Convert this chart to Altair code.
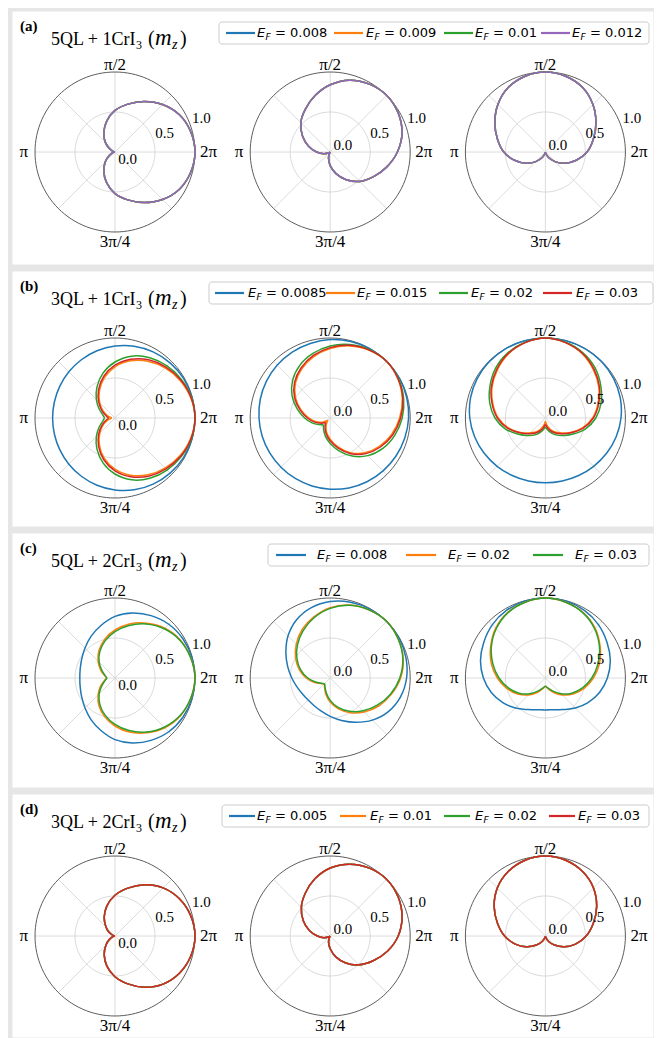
import altair as alt
import pandas as pd

# ---------------- data ----------------
PHI_DEG = list(range(0, 360, 15))          # angle relative to the lobe direction
COL_ROT_DEG = [0, 45, 90]                  # lobe direction of the three columns
ANG_TICK_LABELS = ["2π", "π/2", "π", "3π/4"]
ANG_TICK_DEG = [0, 90, 180, 270]
R_TICKS = [0.0, 0.5, 1.0]
R_TICK_LABELS = ["0.0", "0.5", "1.0"]

# (a) 5QL + 1CrI3 : one radius list per column (col 1, col 2, col 3)
A_EF = ["0.008", "0.009", "0.01", "0.012"]
A_COLORS = ["#1f77b4", "#ff7f0e", "#2ca02c", "#9467bd"]
A_LOBE = [1.00, 0.98, 0.93, 0.84, 0.73, 0.62, 0.52, 0.40, 0.28, 0.17, 0.08, 0.02, 0.00,
          0.02, 0.08, 0.17, 0.28, 0.40, 0.52, 0.62, 0.73, 0.84, 0.93, 0.98]
A_R_0008 = [A_LOBE, A_LOBE, A_LOBE]
A_R_0009 = [A_LOBE, A_LOBE, A_LOBE]
A_R_001 = [A_LOBE, A_LOBE, A_LOBE]
A_R_0012 = [A_LOBE, A_LOBE, A_LOBE]

# (b) 3QL + 1CrI3
B_EF = ["0.0085", "0.015", "0.02", "0.03"]
B_COLORS = ["#1f77b4", "#ff7f0e", "#2ca02c", "#d62728"]
B_R_00085 = [
    [1.00, 0.997, 0.989, 0.974, 0.954, 0.929, 0.90, 0.87, 0.841, 0.816, 0.796, 0.784, 0.78,
     0.784, 0.796, 0.816, 0.841, 0.87, 0.90, 0.929, 0.954, 0.974, 0.989, 0.997],
    [1.00, 0.998, 0.99, 0.98, 0.965, 0.95, 0.935, 0.92, 0.905, 0.89, 0.88, 0.873, 0.87,
     0.873, 0.88, 0.89, 0.905, 0.92, 0.935, 0.95, 0.965, 0.98, 0.99, 0.998],
    [1.00, 1.00, 0.999, 0.995, 0.985, 0.969, 0.945, 0.915, 0.883, 0.854, 0.83, 0.815, 0.81,
     0.815, 0.83, 0.854, 0.883, 0.915, 0.945, 0.969, 0.985, 0.995, 0.999, 1.00],
]
B_R_0015 = [
    [1.00, 0.98, 0.94, 0.885, 0.82, 0.74, 0.64, 0.52, 0.39, 0.27, 0.17, 0.09, 0.04,
     0.09, 0.17, 0.27, 0.39, 0.52, 0.64, 0.74, 0.82, 0.885, 0.94, 0.98],
    [1.00, 0.978, 0.933, 0.868, 0.795, 0.71, 0.615, 0.50, 0.375, 0.265, 0.18, 0.10, 0.04,
     0.10, 0.18, 0.265, 0.375, 0.50, 0.615, 0.71, 0.795, 0.868, 0.933, 0.978],
    [1.00, 0.975, 0.925, 0.85, 0.77, 0.68, 0.59, 0.48, 0.36, 0.26, 0.19, 0.11, 0.04,
     0.11, 0.19, 0.26, 0.36, 0.48, 0.59, 0.68, 0.77, 0.85, 0.925, 0.975],
]
B_R_002 = [
    [1.00, 0.99, 0.96, 0.92, 0.87, 0.80, 0.70, 0.58, 0.45, 0.33, 0.23, 0.16, 0.13,
     0.16, 0.23, 0.33, 0.45, 0.58, 0.70, 0.80, 0.87, 0.92, 0.96, 0.99],
    [1.00, 0.985, 0.95, 0.90, 0.835, 0.76, 0.665, 0.55, 0.425, 0.32, 0.235, 0.165, 0.12,
     0.165, 0.235, 0.32, 0.425, 0.55, 0.665, 0.76, 0.835, 0.90, 0.95, 0.985],
    [1.00, 0.98, 0.94, 0.88, 0.80, 0.72, 0.63, 0.52, 0.40, 0.31, 0.24, 0.17, 0.11,
     0.17, 0.24, 0.31, 0.40, 0.52, 0.63, 0.72, 0.80, 0.88, 0.94, 0.98],
]
B_R_003 = [
    [1.00, 0.985, 0.95, 0.90, 0.84, 0.76, 0.66, 0.54, 0.41, 0.29, 0.19, 0.12, 0.08,
     0.12, 0.19, 0.29, 0.41, 0.54, 0.66, 0.76, 0.84, 0.90, 0.95, 0.985],
    [1.00, 0.98, 0.94, 0.88, 0.81, 0.725, 0.63, 0.515, 0.39, 0.285, 0.20, 0.13, 0.08,
     0.13, 0.20, 0.285, 0.39, 0.515, 0.63, 0.725, 0.81, 0.88, 0.94, 0.98],
    [1.00, 0.975, 0.93, 0.86, 0.78, 0.69, 0.60, 0.49, 0.37, 0.28, 0.21, 0.14, 0.08,
     0.14, 0.21, 0.28, 0.37, 0.49, 0.60, 0.69, 0.78, 0.86, 0.93, 0.975],
]

# (c) 5QL + 2CrI3
C_EF = ["0.008", "0.02", "0.03"]
C_COLORS = ["#1f77b4", "#ff7f0e", "#2ca02c"]
C_R_0008 = [
    [1.00, 0.995, 0.98, 0.95, 0.90, 0.84, 0.77, 0.68, 0.60, 0.53, 0.48, 0.45, 0.44,
     0.45, 0.48, 0.53, 0.60, 0.68, 0.77, 0.84, 0.90, 0.95, 0.98, 0.995],
    [1.00, 0.995, 0.98, 0.955, 0.91, 0.84, 0.745, 0.64, 0.55, 0.48, 0.43, 0.40, 0.39,
     0.40, 0.43, 0.48, 0.55, 0.64, 0.745, 0.84, 0.91, 0.955, 0.98, 0.995],
    [1.00, 0.995, 0.975, 0.94, 0.89, 0.84, 0.775, 0.70, 0.615, 0.53, 0.455, 0.41, 0.40,
     0.41, 0.455, 0.53, 0.615, 0.70, 0.775, 0.84, 0.89, 0.94, 0.975, 0.995],
]
C_LOBE_002 = [1.00, 0.98, 0.945, 0.88, 0.79, 0.70, 0.60, 0.50, 0.40, 0.30, 0.21, 0.14, 0.10,
              0.14, 0.21, 0.30, 0.40, 0.50, 0.60, 0.70, 0.79, 0.88, 0.945, 0.98]
C_LOBE_003 = [1.00, 0.98, 0.94, 0.87, 0.78, 0.68, 0.58, 0.48, 0.38, 0.28, 0.19, 0.13, 0.10,
              0.13, 0.19, 0.28, 0.38, 0.48, 0.58, 0.68, 0.78, 0.87, 0.94, 0.98]
C_R_002 = [C_LOBE_002, C_LOBE_002, C_LOBE_002]
C_R_003 = [C_LOBE_003, C_LOBE_003, C_LOBE_003]

# (d) 3QL + 2CrI3
D_EF = ["0.005", "0.01", "0.02", "0.03"]
D_COLORS = ["#1f77b4", "#ff7f0e", "#2ca02c", "#d62728"]
D_LOBE = [1.00, 0.98, 0.93, 0.85, 0.74, 0.62, 0.51, 0.39, 0.27, 0.16, 0.08, 0.02, 0.00,
          0.02, 0.08, 0.16, 0.27, 0.39, 0.51, 0.62, 0.74, 0.85, 0.93, 0.98]
D_R_0005 = [D_LOBE, D_LOBE, D_LOBE]
D_R_001 = [D_LOBE, D_LOBE, D_LOBE]
D_R_002 = [D_LOBE, D_LOBE, D_LOBE]
D_R_003 = [D_LOBE, D_LOBE, D_LOBE]

# ---------------- layout ----------------
UNIT = 80.0          # px per radial unit
SPACING = 2.69       # distance between polar centres (units)
ROW_W = 641
X0_PX = 103          # first polar centre, px from panel left
SERIF = "Liberation Serif"
SANS = "DejaVu Sans"

ROW_SPECS = [
    dict(tag="(a)", main="5QL + 1CrI", ef=A_EF, colors=A_COLORS,
         r=[A_R_0008, A_R_0009, A_R_001, A_R_0012], h=253, c=141,
         box=(207, 637), lines=[214, 322, 432, 529], llen=29, texts=[245, 354, 463, 560]),
    dict(tag="(b)", main="3QL + 1CrI", ef=B_EF, colors=B_COLORS,
         r=[B_R_00085, B_R_0015, B_R_002, B_R_003], h=255, c=147,
         box=(197, 641), lines=[203, 314, 427, 531], llen=29, texts=[236, 345, 459, 564]),
    dict(tag="(c)", main="5QL + 2CrI", ef=C_EF, colors=C_COLORS,
         r=[C_R_0008, C_R_002, C_R_003], h=254, c=145,
         box=(256, 637), lines=[264, 394, 521], llen=30, texts=[305, 436, 563]),
    dict(tag="(d)", main="3QL + 2CrI", ef=D_EF, colors=D_COLORS,
         r=[D_R_0005, D_R_001, D_R_002, D_R_003], h=243, c=142,
         box=(210, 637), lines=[217, 328, 432, 537], llen=26, texts=[245, 358, 463, 566]),
]

ONE = pd.DataFrame({"d": [0]})


def txt(x, y, s, size, font=SERIF, style="normal", weight="normal", color="black", align="left"):
    return alt.Chart(ONE).mark_text(
        text=s, font=font, fontSize=size, fontStyle=style, fontWeight=weight,
        color=color, align=align, baseline="alphabetic",
    ).encode(x=alt.value(x), y=alt.value(y))


def build_row(spec):
    h, c = spec["h"], spec["c"]
    xdom = [-X0_PX / UNIT, (ROW_W - X0_PX) / UNIT]
    ydom = [-(h - c) / UNIT, c / UNIT]
    X = lambda f: alt.X(f"{f}:Q", scale=alt.Scale(domain=xdom, nice=False, zero=False), axis=None)
    Y = lambda f: alt.Y(f"{f}:Q", scale=alt.Scale(domain=ydom, nice=False, zero=False), axis=None)
    layers = []

    # radial grid lines
    rad = pd.DataFrame([{"col": k, "a": a} for k in range(3) for a in range(0, 360, 45)])
    layers.append(
        alt.Chart(rad).transform_calculate(
            x0=f"datum.col * {SPACING}", y0="0",
        ).transform_calculate(
            x1=f"datum.col * {SPACING} + cos(datum.a * PI / 180)",
            y1="sin(datum.a * PI / 180)",
        ).mark_rule(color="#d3d3d3", strokeWidth=0.8).encode(
            x=X("x0"), y=Y("y0"), x2="x1:Q", y2="y1:Q")
    )
    # rings
    ring = pd.DataFrame([{"col": k, "ring": rr, "a": a} for k in range(3) for rr in (0.5, 1.0)
                         for a in range(0, 361, 3)])
    for rr, col, sw in [(0.5, "#cfcfcf", 0.8), (1.0, "#333333", 0.8)]:
        layers.append(
            alt.Chart(ring).transform_filter(f"datum.ring == {rr}").transform_calculate(
                x=f"datum.col * {SPACING} + datum.ring * cos(datum.a * PI / 180)",
                y="datum.ring * sin(datum.a * PI / 180)",
            ).mark_line(color=col, strokeWidth=sw).encode(
                x=X("x"), y=Y("y"), detail="col:N", order="a:Q")
        )

    # curves
    for ef, color, per_col in zip(spec["ef"], spec["colors"], spec["r"]):
        closed = min(min(v) for v in per_col) > 0.3
        recs = []
        for k, rot in enumerate(COL_ROT_DEG):
            rl = per_col[k]
            idx = list(range(24)) if closed else [(12 + j) % 24 for j in range(25)]
            for j, i in enumerate(idx):
                recs.append({"col": k, "rot": rot, "phi": PHI_DEG[i], "r": rl[i], "k": j})
        layers.append(
            alt.Chart(pd.DataFrame(recs)).transform_calculate(
                th="(datum.phi + datum.rot) * PI / 180"
            ).transform_calculate(
                x=f"datum.col * {SPACING} + datum.r * cos(datum.th)",
                y="datum.r * sin(datum.th)",
            ).mark_line(
                interpolate="cardinal-closed" if closed else "catmull-rom",
                strokeWidth=1.5, color=color,
            ).encode(x=X("x"), y=Y("y"), detail="col:N", order="k:Q")
        )

    # angular tick labels
    ang = pd.DataFrame([{"col": k, "a": a, "lab": lab} for k in range(3)
                        for a, lab in zip(ANG_TICK_DEG, ANG_TICK_LABELS)])
    layers.append(
        alt.Chart(ang).transform_calculate(
            rl="datum.a == 0 ? 1.17 : (datum.a == 90 ? 1.09 : (datum.a == 180 ? 1.14 : 1.12))"
        ).transform_calculate(
            x=f"datum.col * {SPACING} + datum.rl * cos(datum.a * PI / 180)",
            y="datum.rl * sin(datum.a * PI / 180)",
        ).mark_text(font=SERIF, fontSize=17, align="center", baseline="middle").encode(
            x=X("x"), y=Y("y"), text="lab:N")
    )
    # radial tick labels
    rt = pd.DataFrame([{"col": k, "r": r, "lab": lab} for k in range(3)
                       for r, lab in zip(R_TICKS, R_TICK_LABELS)])
    layers.append(
        alt.Chart(rt).transform_calculate(
            x=f"datum.col * {SPACING} + datum.r * cos(PI / 8) + 0.04",
            y="datum.r * sin(PI / 8) + (datum.r == 0 ? (datum.col == 0 ? -0.09 : 0.09) : 0.04)",
        ).mark_text(font=SERIF, fontSize=15, align="left", baseline="middle").encode(
            x=X("x"), y=Y("y"), text="lab:N")
    )

    # panel tag and title
    layers.append(txt(8, 20, spec["tag"], 15, weight="bold"))
    layers.append(txt(39, 34, spec["main"], 18))
    layers.append(txt(124, 38, "3", 12))
    layers.append(txt(136, 34, "(", 20))
    layers.append(txt(143, 34, "m", 23, style="italic"))
    layers.append(txt(160, 38, "z", 14, style="italic"))
    layers.append(txt(168, 34, ")", 20))

    # legend
    bx0, bx1 = spec["box"]
    layers.append(
        alt.Chart(ONE).mark_rect(fill="white", stroke="#cccccc", strokeWidth=1, cornerRadius=3).encode(
            x=alt.value(bx0), x2=alt.value(bx1), y=alt.value(11), y2=alt.value(33))
    )
    leg = pd.DataFrame({
        "lx0": spec["lines"],
        "lx1": [v + spec["llen"] for v in spec["lines"]],
        "tx": spec["texts"],
        "fx": [v + 8.4 for v in spec["texts"]],
        "vx": [v + 18 for v in spec["texts"]],
        "val": ["= " + e for e in spec["ef"]],
        "color": spec["colors"],
    })
    layers.append(
        alt.Chart(leg).mark_rule(strokeWidth=2.2).encode(
            x=alt.X("lx0:Q", scale=None), x2="lx1:Q", y=alt.value(22),
            color=alt.Color("color:N", scale=None))
    )
    layers.append(
        alt.Chart(leg).mark_text(text="E", font=SANS, fontSize=13, fontStyle="italic",
                                 align="left", baseline="middle").encode(
            x=alt.X("tx:Q", scale=None), y=alt.value(22))
    )
    layers.append(
        alt.Chart(leg).mark_text(text="F", font=SANS, fontSize=9, fontStyle="italic",
                                 align="left", baseline="middle").encode(
            x=alt.X("fx:Q", scale=None), y=alt.value(26))
    )
    layers.append(
        alt.Chart(leg).mark_text(font=SANS, fontSize=13, align="left", baseline="middle").encode(
            x=alt.X("vx:Q", scale=None), y=alt.value(22), text="val:N")
    )

    return alt.layer(*layers).properties(width=ROW_W, height=h)


chart = alt.vconcat(*[build_row(s) for s in ROW_SPECS], spacing=5).configure(
    background="#e6e6e6",
    padding={"left": 3, "top": 2, "right": 0, "bottom": 0},
).configure_view(fill="white", stroke="transparent")

chart.save("out.html", embed_options={"renderer": "svg", "actions": False})
